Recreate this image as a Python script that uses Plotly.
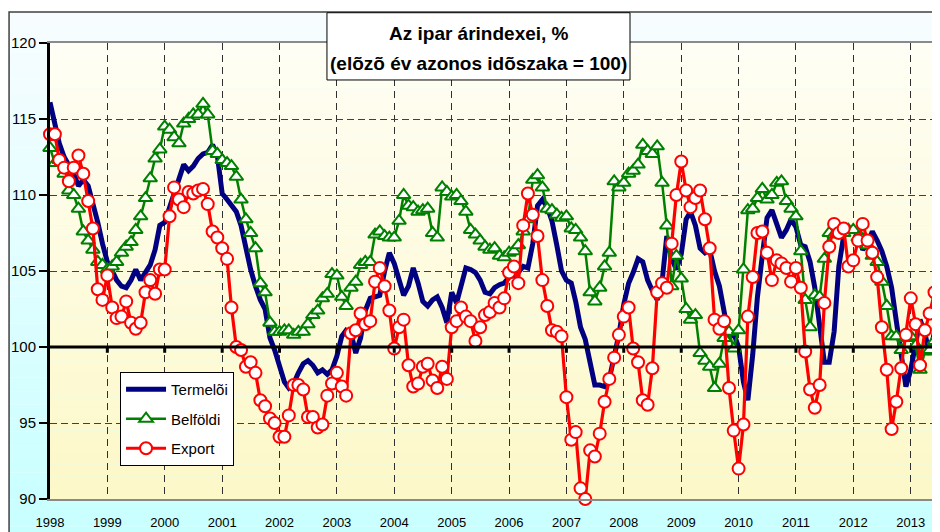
import pandas as pd
import plotly.graph_objects as go

# ---------------- data (monthly, Jan 1998 - Jul 2013) ----------------
months = pd.date_range("1998-01-01", periods=187, freq="MS")

termeloi = [
    116.1, 114.6, 113.4, 112.5, 111.9, 111.4, 110.6, 111.0, 110.6, 109.5, 108.2, 106.8,  # 1998
    105.6, 105.0, 104.4, 104.0, 103.9, 104.4, 105.1, 104.4, 104.9, 105.4, 106.4, 108.0,  # 1999
    108.2, 109.2, 110.0, 111.0, 112.0, 111.6, 111.9, 112.4, 112.7, 112.8, 113.3, 112.6,  # 2000
    110.1, 109.7, 109.3, 108.9, 108.0, 106.4, 105.1, 104.0, 103.1, 102.5, 100.6, 99.8,   # 2001
    98.7, 97.7, 97.3, 97.6, 98.3, 98.9, 99.1, 98.8, 98.3, 98.5, 98.2, 98.5,              # 2002
    99.4, 100.7, 101.1, 100.9, 99.6, 100.6, 102.4, 103.2, 103.3, 103.4, 105.0, 106.2,    # 2003
    105.5, 104.5, 103.4, 104.0, 105.2, 104.2, 103.0, 102.7, 103.1, 103.3, 102.6, 101.6,  # 2004
    103.6, 102.9, 104.1, 105.2, 105.1, 104.9, 104.4, 103.6, 103.5, 103.9, 104.1, 104.2,  # 2005
    104.6, 104.7, 104.9, 105.3, 105.2, 106.8, 109.3, 109.7, 109.2, 108.3, 106.7, 105.0,  # 2006
    104.4, 104.2, 103.0, 101.3, 100.5, 99.0, 97.5, 97.5, 97.4, 97.9, 99.2, 100.8,        # 2007
    102.8, 104.2, 104.9, 105.8, 105.6, 104.4, 103.7, 103.1, 104.3, 107.3, 105.8, 105.1,  # 2008
    106.1, 108.4, 108.9, 108.0, 106.5, 106.2, 106.4, 105.0, 104.0, 102.2, 100.6, 100.9,  # 2009
    100.0, 97.7, 96.5, 99.5, 103.3, 106.0, 108.5, 109.0, 108.1, 107.2, 107.7, 108.4,     # 2010
    107.9, 106.7, 106.6, 105.6, 103.9, 101.5, 99.0, 99.0, 101.0, 105.3, 107.3, 107.6,    # 2011
    107.7, 107.3, 106.4, 106.8, 107.6, 107.0, 106.3, 105.3, 103.9, 101.7, 99.6, 97.4,    # 2012
    98.5, 100.1, 101.8, 100.9, 99.5, 101.0, 102.3,                                       # 2013
]

belfoldi = [
    113.1, 112.1, 112.3, 111.4, 110.3, 110.0, 109.1, 107.6, 107.0, 106.4, 105.6, 105.4,  # 1998
    105.1, 105.3, 105.6, 106.2, 106.6, 106.9, 107.7, 108.6, 109.8, 111.1, 112.4, 113.0,  # 1999
    114.5, 114.3, 113.8, 113.4, 114.7, 115.0, 115.3, 115.3, 116.0, 115.3, 112.9, 112.7,  # 2000
    112.3, 112.1, 111.9, 111.2, 109.7, 108.4, 107.5, 106.5, 104.2, 103.6, 101.6, 101.0,  # 2001
    101.0, 101.1, 101.1, 100.8, 101.0, 101.0, 101.5, 102.1, 102.4, 103.2, 103.5, 104.8,  # 2002
    104.7, 103.3, 102.7, 103.9, 104.3, 105.4, 105.6, 105.6, 107.4, 107.6, 107.3, 107.2,  # 2003
    107.2, 108.3, 110.0, 109.3, 109.2, 108.9, 109.0, 109.1, 107.5, 107.2, 110.5, 110.2,  # 2004
    109.9, 110.0, 109.6, 108.9, 107.7, 107.4, 107.0, 106.6, 106.4, 106.5, 106.0, 105.9,  # 2005
    106.2, 106.3, 106.7, 107.6, 108.4, 111.0, 111.3, 110.5, 109.1, 109.0, 108.7, 108.5,  # 2006
    108.6, 107.8, 107.7, 107.2, 106.3, 103.6, 103.0, 103.9, 105.3, 106.2, 110.9, 110.5,  # 2007
    110.8, 111.4, 111.6, 112.0, 113.3, 112.9, 112.7, 113.2, 110.8, 108.0, 104.0, 106.0,  # 2008
    104.5, 102.5, 101.8, 102.1, 99.6, 99.1, 98.7, 97.3, 98.9, 100.6, 101.0, 99.9,        # 2009
    101.1, 105.1, 109.0, 109.1, 109.8, 110.4, 109.7, 110.0, 110.8, 110.9, 109.6, 109.1,  # 2010
    108.6, 106.3, 103.1, 101.3, 103.4, 103.3, 105.8, 107.5, 107.4, 107.6, 107.5, 107.7,  # 2011
    107.7, 107.2, 107.1, 106.7, 106.0, 105.6, 104.3, 102.7, 100.7, 100.7, 99.8, 100.6,   # 2012
    100.7, 100.1, 98.5, 99.7, 99.8, 100.4, 100.8,                                        # 2013
]

export = [
    114.0, 114.0, 112.3, 111.8, 110.9, 111.8, 112.6, 111.4, 109.6, 107.8, 103.8, 103.1,  # 1998
    104.7, 102.6, 101.9, 102.0, 103.0, 101.6, 101.2, 101.6, 103.6, 104.4, 103.5, 105.1,  # 1999
    105.1, 108.6, 110.5, 109.7, 109.2, 110.2, 110.1, 110.3, 110.4, 109.4, 107.6, 107.2,  # 2000
    106.5, 105.8, 102.6, 100.0, 99.8, 98.7, 99.0, 98.3, 96.5, 96.1, 95.3, 95.0,          # 2001
    94.1, 94.1, 95.5, 97.5, 97.5, 97.2, 95.4, 95.4, 94.7, 94.9, 96.8, 97.6,              # 2002
    98.3, 97.4, 96.8, 100.9, 101.1, 102.2, 101.5, 101.7, 104.3, 105.2, 104.0, 102.4,     # 2003
    99.9, 101.3, 101.8, 98.8, 97.4, 97.6, 98.7, 98.9, 97.8, 97.3, 98.7, 97.9,            # 2004
    101.3, 101.7, 102.6, 102.0, 101.7, 100.4, 101.3, 102.1, 102.3, 102.9, 102.6, 103.2,  # 2005
    104.9, 105.3, 104.2, 108.0, 110.1, 108.7, 107.3, 104.4, 102.7, 101.1, 101.0, 100.7,  # 2006
    96.7, 93.9, 94.4, 90.7, 90.0, 93.2, 92.8, 94.3, 96.4, 97.9, 99.3, 100.8,             # 2007
    102.0, 102.6, 99.9, 99.0, 96.5, 96.2, 98.6, 103.6, 104.2, 103.9, 106.8, 110.0,       # 2008
    112.2, 110.3, 109.2, 109.8, 110.3, 108.4, 106.5, 101.8, 101.2, 101.7, 97.3, 94.5,    # 2009
    92.0, 94.9, 102.0, 104.6, 107.5, 107.6, 106.2, 104.4, 105.7, 105.5, 105.2, 104.3,    # 2010
    105.2, 103.9, 99.7, 97.2, 96.0, 97.5, 102.9, 106.6, 108.1, 107.5, 107.8, 105.3,      # 2011
    105.7, 107.0, 108.1, 107.0, 106.2, 104.6, 101.3, 98.5, 94.6, 96.4, 98.6, 100.8,      # 2012
    103.2, 101.5, 98.8, 101.1, 102.2, 103.6, 102.6,                                      # 2013
]

years = list(range(1998, 2014))
year_ticks = [f"{y}-01-01" for y in years]
year_labels = [str(y) for y in years]
y_ticks = [90, 95, 100, 105, 110, 115, 120]
title_lines = ["Az ipar árindexei, %", "(elõzõ év azonos idõszaka = 100)"]
names = ["Termelõi", "Belföldi", "Export"]

FONT = "Liberation Sans, Arial, sans-serif"

fig = go.Figure()

fig.add_trace(go.Scatter(
    x=months, y=termeloi, name=names[0], mode="lines",
    line=dict(color="#000080", width=5), legendgroup="a", cliponaxis=False))
fig.add_trace(go.Scatter(
    x=months, y=belfoldi, name=names[1], mode="lines+markers",
    line=dict(color="#008000", width=2.5),
    marker=dict(symbol="triangle-up", size=12, color="white",
                line=dict(color="#008000", width=2)),
    legendgroup="b", cliponaxis=False))
fig.add_trace(go.Scatter(
    x=months, y=export, name=names[2], mode="lines+markers",
    line=dict(color="#ff0000", width=3.2),
    marker=dict(symbol="circle", size=12, color="white",
                line=dict(color="#ff0000", width=2)),
    legendgroup="c", cliponaxis=False))

shapes = []

def lerp(c0, c1, t):
    return "rgb(%d,%d,%d)" % tuple(round(a + (b - a) * t) for a, b in zip(c0, c1))

# outer chart background gradient
N = 40
oy0, oy1 = -0.12, 1.068
for k in range(N):
    t = k / (N - 1)
    ya = oy1 - (oy1 - oy0) * k / N
    yb = oy1 - (oy1 - oy0) * (k + 1) / N
    shapes.append(dict(type="rect", xref="paper", yref="paper", x0=-0.046, x1=1.05,
                       y0=yb, y1=ya, fillcolor=lerp((247, 253, 255), (198, 255, 255), t),
                       line=dict(width=0), layer="below"))
# plot area gradient
for k in range(N):
    t = k / (N - 1)
    ya = 1 - k / N
    yb = 1 - (k + 1) / N
    shapes.append(dict(type="rect", xref="paper", yref="paper", x0=0, x1=1.02,
                       y0=yb, y1=ya, fillcolor=lerp((254, 254, 244), (253, 248, 200), t),
                       line=dict(width=0), layer="below"))
# outer frame
shapes.append(dict(type="rect", xref="paper", yref="paper", x0=-0.046, x1=1.05,
                   y0=-0.2, y1=1.068, line=dict(color="#404040", width=1.5),
                   fillcolor="rgba(0,0,0,0)", layer="below"))
# the 100 line
shapes.append(dict(type="line", xref="paper", yref="y", x0=0, x1=1.02, y0=100, y1=100,
                   line=dict(color="black", width=3), layer="above"))
# small ticks on the 100 line
for yt in year_ticks[1:]:
    shapes.append(dict(type="line", xref="x", yref="y", x0=yt, x1=yt, y0=100, y1=99.62,
                       line=dict(color="black", width=3), layer="above"))
# title box
shapes.append(dict(type="rect", xref="paper", yref="paper", x0=0.3112, x1=0.6517,
                   y0=0.9189, y1=1.0664, fillcolor="white",
                   line=dict(color="black", width=1), layer="above"))

annotations = [
    dict(text="<b>%s</b>" % title_lines[0], xref="paper", yref="paper", x=0.4815, y=1.0219,
         showarrow=False, font=dict(family=FONT, size=19, color="black"),
         xanchor="center", yanchor="middle"),
    dict(text="<b>%s</b>" % title_lines[1], xref="paper", yref="paper", x=0.4815, y=0.9561,
         showarrow=False, font=dict(family=FONT, size=19, color="black"),
         xanchor="center", yanchor="middle"),
]

# The page body has an 8px margin; the figure is sized so it fits the window exactly.
fig.update_layout(
    width=932, height=524,
    margin=dict(l=42, r=0, t=35, b=33),
    paper_bgcolor="white", plot_bgcolor="rgba(0,0,0,0)",
    font=dict(family=FONT, color="black"),
    shapes=shapes, annotations=annotations,
    showlegend=True,
    legend=dict(x=0.0787, y=0.2785, xanchor="left", yanchor="top",
                bgcolor="white", bordercolor="black", borderwidth=1,
                font=dict(family=FONT, size=15, color="black"),
                traceorder="grouped", tracegroupgap=7, itemwidth=40),
    xaxis=dict(type="date", range=["1998-01-01", "2013-07-06"],
               tickvals=year_ticks, ticktext=year_labels,
               tickfont=dict(family=FONT, size=13, color="black"),
               ticks="outside", ticklen=11, tickcolor="rgba(0,0,0,0)",
               showgrid=True, gridcolor="#303030", gridwidth=1, griddash="7px,5px",
               showline=True, linecolor="#8a8a8a", linewidth=1.5, mirror=True,
               zeroline=False, fixedrange=True),
    yaxis=dict(range=[90, 120], tickvals=y_ticks,
               tickfont=dict(family=FONT, size=15, color="black"),
               ticks="outside", ticklen=8, tickwidth=2, tickcolor="black",
               showgrid=True, gridcolor="#404040", gridwidth=1, griddash="7px,4px",
               showline=True, linecolor="black", linewidth=3,
               zeroline=False, fixedrange=True),
)

fig.write_html("out.html")
